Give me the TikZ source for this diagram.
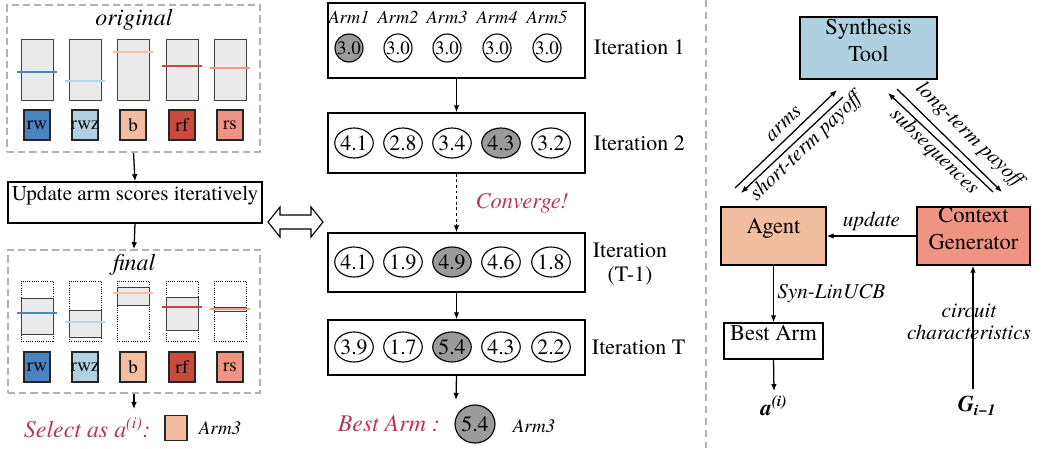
\documentclass[tikz,border=0pt]{standalone}
\usepackage{fontspec}
\setmainfont{TeX Gyre Termes}
\usetikzlibrary{arrows.meta,fit,shapes.geometric}

% palette
\definecolor{cRW}{HTML}{4A84BE}
\definecolor{cRWZ}{HTML}{B0D0E3}
\definecolor{cB}{HTML}{F3BDA0}
\definecolor{cRF}{HTML}{C84B3D}
\definecolor{cRS}{HTML}{EF9482}
\definecolor{lRW}{HTML}{4A88C4}
\definecolor{lRWZ}{HTML}{B8D6E8}
\definecolor{lB}{HTML}{F7C2A8}
\definecolor{lRF}{HTML}{C9483A}
\definecolor{lRS}{HTML}{F09A88}
\definecolor{accent}{HTML}{B8355A}
\definecolor{toolblue}{HTML}{AED0E0}
\definecolor{selgray}{HTML}{9B9B9B}
\definecolor{barfill}{HTML}{EBEBEB}

\newcommand{\pxfont}[1]{\fontsize{#1}{1.2\dimexpr#1pt\relax}\selectfont}

\tikzset{
  dashbox/.style={draw=gray!60, dash pattern=on 5pt off 3pt, line width=1.1pt, inner sep=0pt},
  bar/.style={draw=black!75, fill=barfill, line width=0.7pt, inner sep=0pt},
  slot/.style={draw=black, densely dotted, line width=0.6pt, inner sep=0pt},
  lvl/.style={line width=1.9pt},
  swatch/.style={draw=black!85, line width=0.9pt, minimum width=0.65cm, minimum height=0.75cm, inner sep=0pt},
  swtext/.style={font=\pxfont{13.5}},
  rowbox/.style={draw, line width=1pt, inner sep=0pt},
  score/.style={circle, draw, line width=0.8pt, minimum size=0.7cm, inner sep=0pt, font=\pxfont{13.5}},
  wscore/.style={ellipse, draw, line width=0.8pt, minimum width=0.925cm, minimum height=0.75cm, inner sep=0pt, font=\pxfont{15.5}},
  sel/.style={fill=selgray},
  armlab/.style={font=\pxfont{13}\itshape},
  itlab/.style={font=\pxfont{15.6}, align=center},
  arr/.style={-{Latex[length=5pt,width=4pt]}, line width=0.9pt},
  blockbox/.style={draw, line width=1pt, inner sep=0pt, align=center, font=\pxfont{16}},
  edgelab/.style={font=\pxfont{15}\itshape, align=center},
  accenttext/.style={text=accent, font=\pxfont{17}\itshape},
}

\begin{document}
\begin{tikzpicture}[x=0.025cm, y=-0.025cm]
\useasboundingbox (0,0) rectangle (1044,448);

% ---------------- left panel: arm scores ----------------
\node[dashbox, fit={(7,5) (260,152)}] (orig) {};
\node[font=\pxfont{17}\itshape] (origt) at (134,20) {original};
\foreach \cx/\lv/\lc/\sc/\nm [count=\i] in
  {37/72/lRW/cRW/rw, 85/81/lRWZ/cRWZ/rwz, 133/52/lB/cB/b, 182/66/lRF/cRF/rf, 230/68/lRS/cRS/rs} {
  \node[bar, fit={(\cx-16,39) (\cx+16,100)}] (ob\i) {};
  \draw[lvl, draw=\lc] (\cx-20,\lv) -- (\cx+20,\lv);
  \node[swatch, fill=\sc] (os\i) at (\cx,125) {};
  \node[swtext] at (os\i) {\nm};
}

\node[blockbox, font=\pxfont{15}, fit={(8,182) (262,223)}] (upd) {Update arm scores iteratively};

\node[dashbox, fit={(8,250) (260,393)}] (final) {};
\node[font=\pxfont{17}\itshape] (finalt) at (134,265) {final};
\foreach \cx/\ya/\yb/\lv/\lc/\sc/\nm [count=\i] in
  {37/298/334/313/lRW/cRW/rw, 85/310/337/322/lRWZ/cRWZ/rwz, 133/287/305/293/lB/cB/b,
   182/297/330/307/lRF/cRF/rf, 230/307/311/309/lRS/cRS/rs} {
  \node[slot, fit={(\cx-16,281) (\cx+16,341)}] (fd\i) {};
  \node[bar, fit={(\cx-16,\ya) (\cx+16,\yb)}] (fb\i) {};
  \draw[lvl, draw=\lc] (\cx-20,\lv) -- (\cx+20,\lv);
  \node[swatch, fill=\sc] (fs\i) at (\cx,367) {};
  \node[swtext] at (fs\i) {\nm};
}

\draw[arr] (orig.south) -- (upd.north);
\draw[arr] (upd.south) -- (final.north);
\coordinate (selend) at (134,409);
\draw[arr] (final.south) -- (selend);

\node[accenttext, anchor=west] (seltxt) at (19,428) {Select as a\textsuperscript{(i)}:};
\node[draw=black!85, line width=0.9pt, fill=cB, minimum width=0.55cm, minimum height=0.62cm, inner sep=0pt] (selsw) at (176,428) {};
\node[font=\pxfont{13.5}\itshape] (selarm) at (220,428) {Arm3};

% two-way link between the panels
\draw[line width=0.8pt, fill=white, line join=miter]
  (268,222) -- (280,207) -- (280,215) -- (311,215) -- (311,207) -- (323,222)
  -- (311,237) -- (311,229) -- (280,229) -- (280,237) -- cycle;

% ---------------- middle panel: iterations ----------------
\node[rowbox, fit={(328,3) (585,78)}] (r1) {};
\node[rowbox, fit={(328,113) (585,173)}] (r2) {};
\node[rowbox, fit={(328,233) (585,292)}] (r3) {};
\node[rowbox, fit={(328,320) (585,375)}] (r4) {};

\foreach \x/\v [count=\i] in {349/3.0, 398/3.0, 447/3.0, 497/3.0, 547/3.0} {
  \node[armlab] (al\i) at (\x,17) {Arm\i};
  \ifnum\i=1
    \node[score, sel] (a\i) at (\x,48) {\v};
  \else
    \node[score] (a\i) at (\x,48) {\v};
  \fi
}
\foreach \x/\v [count=\i] in {354/4.1, 403/2.8, 452/3.4, 501/4.3, 551/3.2} {
  \ifnum\i=4 \node[wscore, sel] (b\i) at (\x,143) {\v};
  \else \node[wscore] (b\i) at (\x,143) {\v}; \fi
}
\foreach \x/\v [count=\i] in {354/4.1, 403/1.9, 452/4.9, 501/4.6, 551/1.8} {
  \ifnum\i=3 \node[wscore, sel] (c\i) at (\x,262) {\v};
  \else \node[wscore] (c\i) at (\x,262) {\v}; \fi
}
\foreach \x/\v [count=\i] in {354/3.9, 403/1.7, 452/5.4, 501/4.3, 551/2.2} {
  \ifnum\i=3 \node[wscore, sel] (d\i) at (\x,347) {\v};
  \else \node[wscore] (d\i) at (\x,347) {\v}; \fi
}

\node[itlab, anchor=west] (it1) at (589,47) {Iteration 1};
\node[itlab, anchor=west] (it2) at (589,143) {Iteration 2};
\node[itlab] (it3) at (630,264) {Iteration\\[-2pt](T-1)};
\node[itlab, anchor=west] (it4) at (587,347) {Iteration T};

\draw[arr] (r1.south) -- (r2.north);
\draw[arr, dash pattern=on 2pt off 2pt] (r2.south) -- (r3.north);
\draw[arr] (r3.south) -- (r4.north);
\coordinate (bestend) at (456,400);
\draw[arr] (r4.south) -- (bestend);

\node[accenttext, font=\pxfont{16}\itshape] (conv) at (522,203) {Converge!};

\node[accenttext] (besttxt) at (389,424) {Best Arm :};
\node[ellipse, draw, sel, line width=0.8pt, minimum width=1cm, minimum height=0.95cm, inner sep=0pt, font=\pxfont{15.5}] (best) at (475,424) {5.4};
\node[font=\pxfont{13.5}\itshape] (bestarm) at (534,426) {Arm3};

% ---------------- right panel: bandit loop ----------------
\draw[gray!60, line width=1pt, dash pattern=on 5pt off 3.5pt] (706,0) -- (706,448);

\node[blockbox, fill=toolblue, fit={(800,17) (937,79)}] (tool) {Synthesis\\Tool};
\node[blockbox, fill=cB, fit={(721,207) (826,265)}] (agent) {Agent};
\node[blockbox, fill=cRS, fit={(917,207) (1030,265)}] (ctx) {Context\\Generator};
\node[blockbox, fill=white, fit={(724,323) (823,359)}] (barm) {Best Arm};
\node[font=\pxfont{16}\bfseries\itshape] (ai) at (774,406) {a\textsuperscript{(i)}};
\node[font=\pxfont{16}\bfseries\itshape] (gi) at (977,406) {G\textsubscript{i−1}};

\draw[arr] (ctx.west) -- node[edgelab, above] {update} (agent.east);
\draw[arr] (agent.south) -- node[edgelab, right, xshift=-1pt] {Syn-LinUCB} (barm.north);
\draw[arr] (barm.south) -- (ai.north);
\coordinate (gtop) at (973,389);
\draw[arr] (gtop) -- (ctx.south -| gtop);
\node[edgelab] (cc) at (969,322) {circuit\\[-2pt]characteristics};

% arms / payoffs between agent and tool
\coordinate (l1a) at (735,188);
\coordinate (l1b) at (837,90);
\coordinate (l2a) at (843,97);
\coordinate (l2b) at (741,193);
\draw[arr] (l1a) -- (l1b);
\draw[arr] (l2a) -- (l2b);
\node[edgelab, rotate=44] (armsl) at (784,124) {arms};
\node[edgelab, rotate=44] (stp) at (806,147) {short-term payoff};

\coordinate (r1a) at (993,192);
\coordinate (r1b) at (888,93);
\coordinate (r2a) at (897,89);
\coordinate (r2b) at (1002,192);
\draw[arr] (r1a) -- (r1b);
\draw[arr] (r2a) -- (r2b);
\node[edgelab, rotate=-44] (ltp) at (969,135) {long-term payoff};
\node[edgelab, rotate=-44] (subs) at (934,152) {subsequences};

\end{tikzpicture}
\end{document}
